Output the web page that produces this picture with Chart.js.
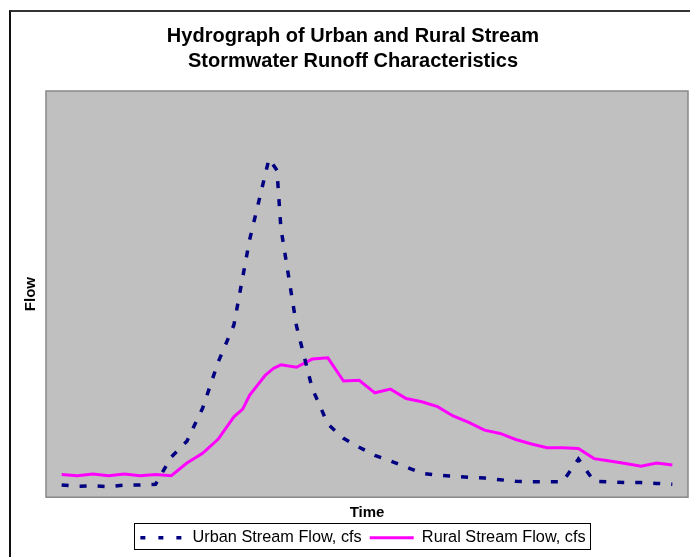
<!DOCTYPE html>
<html>
<head>
<meta charset="utf-8">
<script src="https://cdn.jsdelivr.net/npm/chart.js@4.4.1/dist/chart.umd.min.js"></script>
<style>
    html, body { margin: 0; padding: 0; background: #fff; overflow: hidden; }
    #frame {
        position: absolute;
        left: 9px;
        top: 10px;
        width: 700px;
        height: 560px;
        border-left: 2px solid #111;
        border-top: 2px solid #333;
    }
    #box { position: absolute; left: 0; top: 0; width: 686px; height: 547px; }
</style>
</head>
<body>
<div id="frame"><div id="box"><canvas id="hydroChart"></canvas></div></div>
<script>
// Hydrograph data (time steps, flow)
const titleLines = ['Hydrograph of Urban and Rural Stream', 'Stormwater Runoff Characteristics'];
const seriesNames = ['Urban Stream Flow, cfs', 'Rural Stream Flow, cfs'];

const urbanTime = [1, 2, 3, 4, 5, 6, 7, 8, 9, 10, 11, 12, 13, 14.24, 14.75, 15,
    16, 17, 18, 19, 20, 21, 22, 23, 24, 25, 26, 27, 28, 29, 30,
    31, 32, 33, 34, 35, 36, 37, 38, 39, 40];
const urbanFlow = [3.0, 2.7, 2.8, 2.6, 3.0, 3.0, 3.2, 9.9, 13.8, 21.9, 33.3, 42.4, 63.3, 83.3, 80.5, 66.3,
    42.1, 26.8, 18.0, 14.5, 12.3, 10.3, 8.9, 7.4, 5.9, 5.4, 5.2, 4.9, 4.7, 4.3, 3.9,
    3.8, 3.8, 3.8, 9.4, 3.9, 3.8, 3.6, 3.6, 3.4, 3.2];

const ruralTime = [1, 2, 3, 4, 5, 6, 7, 8, 9, 10, 11, 12, 12.56, 13, 14, 14.52, 15,
    16, 17, 18, 19, 20, 21, 22, 23, 24, 25, 26, 27, 28, 29, 30,
    31, 32, 33, 34, 35, 36, 37, 38, 39, 40];
const ruralFlow = [5.6, 5.3, 5.7, 5.3, 5.7, 5.3, 5.6, 5.3, 8.4, 10.8, 14.3, 19.8, 21.7, 25.1, 30.0, 31.7, 32.6,
    32.0, 34.0, 34.3, 28.6, 28.8, 25.7, 26.6, 24.3, 23.5, 22.3, 20.0, 18.4, 16.5, 15.7, 14.2,
    13.1, 12.2, 12.2, 12.0, 9.5, 8.9, 8.3, 7.6, 8.4, 7.9];

const toPoints = (xs, ys) => xs.map((x, i) => ({ x: x, y: ys[i] }));
const fontFamily = '"Liberation Sans", Arial, sans-serif';

// gray plot area like the old spreadsheet charts
const plotBackground = {
    id: 'plotBackground',
    beforeDraw(chart) {
        const { ctx, chartArea: a } = chart;
        ctx.save();
        ctx.fillStyle = '#c0c0c0';
        ctx.fillRect(a.left, a.top, a.right - a.left, a.bottom - a.top);
        ctx.restore();
    },
    afterDatasetsDraw(chart) {
        const { ctx, chartArea: a } = chart;
        ctx.save();
        ctx.strokeStyle = '#888';
        ctx.lineWidth = 1.5;
        ctx.strokeRect(a.left, a.top, a.right - a.left, a.bottom - a.top);
        ctx.restore();
    }
};

// frame around the legend items, legend nudged a bit left
const legendFrame = {
    id: 'legendFrame',
    afterLayout(chart) {
        if (chart.legend) {
            chart.legend.left -= 4;
            chart.legend.right -= 4;
        }
    },
    afterDraw(chart) {
        const boxes = chart.legend && chart.legend.legendHitBoxes;
        if (!boxes || !boxes.length) return;
        const left = Math.min(...boxes.map(b => b.left)) - 6;
        const right = Math.max(...boxes.map(b => b.left + b.width)) + 5;
        const top = Math.min(...boxes.map(b => b.top)) - 7;
        const bottom = Math.max(...boxes.map(b => b.top + b.height)) + 3;
        const ctx = chart.ctx;
        ctx.save();
        ctx.strokeStyle = '#000';
        ctx.lineWidth = 1;
        ctx.strokeRect(Math.round(left) + 0.5, Math.round(top) + 0.5, Math.round(right - left), Math.round(bottom - top));
        ctx.restore();
    }
};

const ctx = document.getElementById('hydroChart').getContext('2d');
new Chart(ctx, {
    type: 'line',
    data: {
        datasets: [{
            label: seriesNames[0],
            data: toPoints(urbanTime, urbanFlow),
            borderColor: '#000080',
            backgroundColor: '#000080',
            borderWidth: 3.5,
            borderDash: [7, 11],
            pointRadius: 0,
            pointStyle: 'line',
            tension: 0,
            fill: false
        }, {
            label: seriesNames[1],
            data: toPoints(ruralTime, ruralFlow),
            borderColor: '#ff00ff',
            backgroundColor: '#ff00ff',
            borderWidth: 3,
            pointRadius: 0,
            pointStyle: 'line',
            tension: 0,
            fill: false
        }]
    },
    options: {
        responsive: true,
        maintainAspectRatio: false,
        animation: false,
        layout: { padding: { left: 7, right: 9, top: 0, bottom: 3 } },
        plugins: {
            title: {
                display: true,
                text: titleLines,
                color: '#000',
                font: { family: fontFamily, size: 20, weight: 'bold', lineHeight: 1.25 },
                padding: { top: 11.5, bottom: 17.5 }
            },
            legend: {
                display: true,
                position: 'bottom',
                fullSize: false,
                labels: {
                    color: '#000',
                    font: { family: fontFamily, size: 16.3 },
                    usePointStyle: true,
                    pointStyleWidth: 44,
                    boxHeight: 10,
                    padding: 8,
                    generateLabels(chart) {
                        // point style legends drop the dataset dash, put it back
                        const items = Chart.defaults.plugins.legend.labels.generateLabels(chart);
                        items.forEach(item => {
                            const ds = chart.data.datasets[item.datasetIndex];
                            item.lineDash = ds.borderDash ? [5, 13] : [];
                            item.lineWidth = ds.borderWidth;
                        });
                        return items;
                    }
                }
            },
            tooltip: { enabled: false }
        },
        scales: {
            x: {
                type: 'linear',
                min: 0,
                max: 41,
                ticks: { display: false },
                grid: { display: false, drawTicks: false },
                border: { display: false },
                title: {
                    display: true,
                    text: 'Time',
                    color: '#000',
                    font: { family: fontFamily, size: 15, weight: 'bold', lineHeight: 1.2 },
                    padding: { top: 6.5, bottom: 0 }
                }
            },
            y: {
                min: 0,
                max: 100,
                ticks: { display: false },
                grid: { display: false, drawTicks: false },
                border: { display: false },
                title: {
                    display: true,
                    text: 'Flow',
                    color: '#000',
                    font: { family: fontFamily, size: 15, weight: 'bold', lineHeight: 1.2 },
                    padding: { top: 4, bottom: 6 }
                }
            }
        }
    },
    plugins: [plotBackground, legendFrame]
});
</script>
</body>
</html>
